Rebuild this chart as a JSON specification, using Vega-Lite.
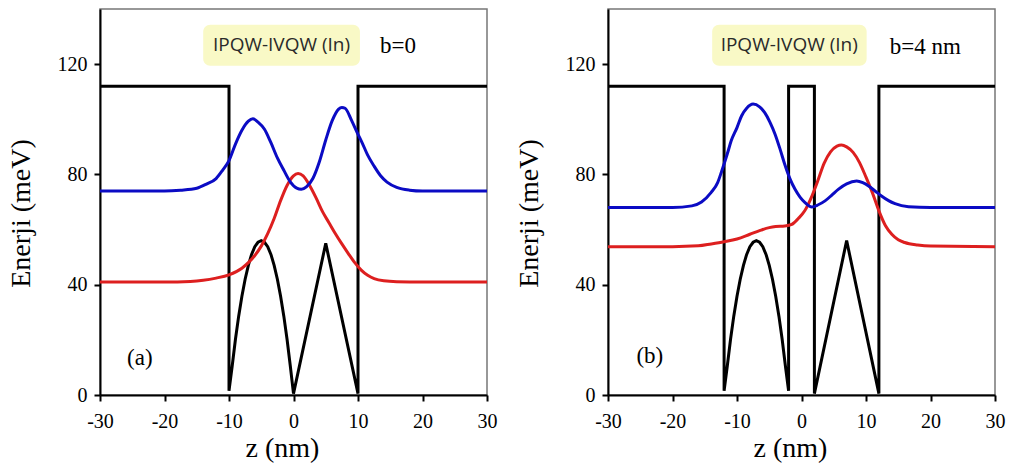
{
  "$schema": "https://vega.github.io/schema/vega-lite/v6.json",
  "padding": {"left": 6, "top": 8, "right": 5, "bottom": 5},
  "bounds": "flush",
  "spacing": 121,
  "background": "white",
  "config": {
    "view": {"stroke": "#777777", "strokeWidth": 1.5},
    "axis": {
      "grid": false,
      "labelFlush": false,
      "labelOverlap": false,
      "domainColor": "black", "domainWidth": 2,
      "tickColor": "black", "tickWidth": 2, "tickSize": 6,
      "labelFont": "Liberation Serif", "labelFontSize": 20, "labelColor": "black",
      "titleFont": "Liberation Serif", "titleFontSize": 28, "titleFontWeight": "normal", "titleColor": "black",
      "labelExpr": "datum.value + ''"
    },
    "axisX": {"labelPadding": 10, "titlePadding": 3, "titleX": 182},
    "axisY": {"labelPadding": 7, "titlePadding": 22, "titleY": 204}
  },
  "datasets": {
    "aV": [
      {"z": -30, "E": 112}, {"z": -10, "E": 112}, {"z": -10, "E": 1.5},
      {"z": -9.5, "E": 10.6}, {"z": -9, "E": 20.2}, {"z": -8.5, "E": 28.6},
      {"z": -8, "E": 35.8}, {"z": -7.5, "E": 42}, {"z": -7, "E": 47},
      {"z": -6.5, "E": 51}, {"z": -6, "E": 53.8}, {"z": -5.5, "E": 55.4},
      {"z": -5, "E": 56}, {"z": -4.5, "E": 55.4}, {"z": -4, "E": 53.8},
      {"z": -3.5, "E": 51}, {"z": -3, "E": 47}, {"z": -2.5, "E": 42},
      {"z": -2, "E": 35.8}, {"z": -1.5, "E": 28.6}, {"z": -1, "E": 20.2},
      {"z": -0.5, "E": 10.6}, {"z": 0, "E": 0.5}, {"z": 5, "E": 55},
      {"z": 10, "E": 0.5}, {"z": 10, "E": 112}, {"z": 30, "E": 112}
    ],
    "aE": [
      {"z": -30, "E": 41, "s": "E1"}, {"z": -20, "E": 41, "s": "E1"}, {"z": -16, "E": 41.2, "s": "E1"},
      {"z": -14, "E": 41.6, "s": "E1"}, {"z": -12, "E": 42.4, "s": "E1"}, {"z": -10, "E": 43.6, "s": "E1"},
      {"z": -8, "E": 46, "s": "E1"}, {"z": -7, "E": 48, "s": "E1"}, {"z": -6, "E": 50.6, "s": "E1"},
      {"z": -5, "E": 54, "s": "E1"}, {"z": -4, "E": 58.5, "s": "E1"}, {"z": -3, "E": 64, "s": "E1"},
      {"z": -2, "E": 70.5, "s": "E1"}, {"z": -1, "E": 76, "s": "E1"}, {"z": 0, "E": 79.5, "s": "E1"},
      {"z": 0.7, "E": 80.3, "s": "E1"}, {"z": 1.5, "E": 79.5, "s": "E1"}, {"z": 2.5, "E": 76, "s": "E1"},
      {"z": 3.5, "E": 71.5, "s": "E1"}, {"z": 4.5, "E": 66.5, "s": "E1"}, {"z": 5.5, "E": 62.5, "s": "E1"},
      {"z": 6.5, "E": 58.5, "s": "E1"}, {"z": 7.5, "E": 54.8, "s": "E1"}, {"z": 8.5, "E": 51.3, "s": "E1"},
      {"z": 9.5, "E": 48, "s": "E1"}, {"z": 10.5, "E": 45.3, "s": "E1"}, {"z": 11.5, "E": 43.4, "s": "E1"},
      {"z": 12.5, "E": 42.2, "s": "E1"}, {"z": 14, "E": 41.4, "s": "E1"}, {"z": 16, "E": 41.1, "s": "E1"},
      {"z": 20, "E": 41, "s": "E1"}, {"z": 30, "E": 41, "s": "E1"},

      {"z": -30, "E": 74, "s": "E2"}, {"z": -20, "E": 74, "s": "E2"}, {"z": -17.5, "E": 74.3, "s": "E2"},
      {"z": -15, "E": 75, "s": "E2"}, {"z": -13.5, "E": 76.5, "s": "E2"}, {"z": -12, "E": 78.5, "s": "E2"},
      {"z": -11, "E": 81.5, "s": "E2"}, {"z": -10, "E": 85, "s": "E2"}, {"z": -9, "E": 91, "s": "E2"},
      {"z": -8, "E": 96, "s": "E2"}, {"z": -7, "E": 99.3, "s": "E2"}, {"z": -6.3, "E": 100.2, "s": "E2"},
      {"z": -5.5, "E": 99, "s": "E2"}, {"z": -4.5, "E": 96.4, "s": "E2"}, {"z": -3.5, "E": 91.5, "s": "E2"},
      {"z": -2.5, "E": 86, "s": "E2"}, {"z": -1.5, "E": 81.5, "s": "E2"}, {"z": -0.5, "E": 77.3, "s": "E2"},
      {"z": 0.5, "E": 75, "s": "E2"}, {"z": 1.2, "E": 74.6, "s": "E2"}, {"z": 2, "E": 75.5, "s": "E2"},
      {"z": 3, "E": 78.5, "s": "E2"}, {"z": 4, "E": 84.5, "s": "E2"}, {"z": 5, "E": 92.5, "s": "E2"},
      {"z": 6, "E": 99.5, "s": "E2"}, {"z": 7, "E": 103.7, "s": "E2"}, {"z": 7.5, "E": 104.3, "s": "E2"},
      {"z": 8, "E": 104, "s": "E2"}, {"z": 9, "E": 99.6, "s": "E2"}, {"z": 10, "E": 94.5, "s": "E2"},
      {"z": 10.5, "E": 92.2, "s": "E2"}, {"z": 11.5, "E": 87, "s": "E2"}, {"z": 12.5, "E": 83, "s": "E2"},
      {"z": 13.5, "E": 79.5, "s": "E2"}, {"z": 14.5, "E": 77.2, "s": "E2"}, {"z": 16, "E": 75.3, "s": "E2"},
      {"z": 18, "E": 74.3, "s": "E2"}, {"z": 20, "E": 74, "s": "E2"}, {"z": 30, "E": 74, "s": "E2"}
    ],
    "bV": [
      {"z": -30, "E": 112}, {"z": -12, "E": 112}, {"z": -12, "E": 1.5},
      {"z": -11.5, "E": 10.6}, {"z": -11, "E": 20.2}, {"z": -10.5, "E": 28.6},
      {"z": -10, "E": 35.8}, {"z": -9.5, "E": 42}, {"z": -9, "E": 47},
      {"z": -8.5, "E": 51}, {"z": -8, "E": 53.8}, {"z": -7.5, "E": 55.4},
      {"z": -7, "E": 56}, {"z": -6.5, "E": 55.4}, {"z": -6, "E": 53.8},
      {"z": -5.5, "E": 51}, {"z": -5, "E": 47}, {"z": -4.5, "E": 42},
      {"z": -4, "E": 35.8}, {"z": -3.5, "E": 28.6}, {"z": -3, "E": 20.2},
      {"z": -2.5, "E": 10.6}, {"z": -2, "E": 1.5}, {"z": -2, "E": 112},
      {"z": 2, "E": 112}, {"z": 2, "E": 0.5}, {"z": 7, "E": 56},
      {"z": 12, "E": 0.5}, {"z": 12, "E": 112}, {"z": 30, "E": 112}
    ],
    "bE": [
      {"z": -30, "E": 53.8, "s": "E1"}, {"z": -20, "E": 53.8, "s": "E1"}, {"z": -16, "E": 54.1, "s": "E1"},
      {"z": -14, "E": 54.8, "s": "E1"}, {"z": -12, "E": 55.6, "s": "E1"}, {"z": -10, "E": 56.6, "s": "E1"},
      {"z": -8, "E": 58.3, "s": "E1"}, {"z": -6.5, "E": 59.6, "s": "E1"}, {"z": -5, "E": 60.7, "s": "E1"},
      {"z": -4, "E": 61.1, "s": "E1"}, {"z": -2.6, "E": 61.3, "s": "E1"}, {"z": -1.5, "E": 61.9, "s": "E1"},
      {"z": -0.5, "E": 64, "s": "E1"}, {"z": 0.5, "E": 66.8, "s": "E1"}, {"z": 1.5, "E": 71.5, "s": "E1"},
      {"z": 2.5, "E": 77.5, "s": "E1"}, {"z": 3.5, "E": 84, "s": "E1"}, {"z": 4.5, "E": 88.2, "s": "E1"},
      {"z": 5.5, "E": 90.3, "s": "E1"}, {"z": 6.2, "E": 90.7, "s": "E1"}, {"z": 7, "E": 90, "s": "E1"},
      {"z": 8, "E": 88, "s": "E1"}, {"z": 9, "E": 84.3, "s": "E1"}, {"z": 10, "E": 79, "s": "E1"},
      {"z": 11, "E": 73.3, "s": "E1"}, {"z": 12, "E": 66.8, "s": "E1"}, {"z": 13, "E": 61.5, "s": "E1"},
      {"z": 14, "E": 58.3, "s": "E1"}, {"z": 15, "E": 56.3, "s": "E1"}, {"z": 16, "E": 55.3, "s": "E1"},
      {"z": 18, "E": 54.4, "s": "E1"}, {"z": 20, "E": 54, "s": "E1"}, {"z": 30, "E": 53.8, "s": "E1"},

      {"z": -30, "E": 68, "s": "E2"}, {"z": -20, "E": 68, "s": "E2"}, {"z": -17, "E": 68.6, "s": "E2"},
      {"z": -15.5, "E": 70, "s": "E2"}, {"z": -14, "E": 73.5, "s": "E2"}, {"z": -13, "E": 77, "s": "E2"},
      {"z": -12.4, "E": 81, "s": "E2"}, {"z": -11.5, "E": 87.5, "s": "E2"}, {"z": -10.9, "E": 92.2, "s": "E2"},
      {"z": -10, "E": 97, "s": "E2"}, {"z": -9.3, "E": 101.2, "s": "E2"}, {"z": -8.5, "E": 104, "s": "E2"},
      {"z": -7.5, "E": 105.5, "s": "E2"}, {"z": -6.5, "E": 104.5, "s": "E2"}, {"z": -5.7, "E": 102.4, "s": "E2"},
      {"z": -4.9, "E": 99, "s": "E2"}, {"z": -4.1, "E": 94.6, "s": "E2"}, {"z": -3.3, "E": 89, "s": "E2"},
      {"z": -2.6, "E": 83.7, "s": "E2"}, {"z": -1.8, "E": 78.5, "s": "E2"}, {"z": -1, "E": 74.6, "s": "E2"},
      {"z": -0.2, "E": 71.7, "s": "E2"}, {"z": 0.55, "E": 69.8, "s": "E2"}, {"z": 1.6, "E": 68.2, "s": "E2"},
      {"z": 2.6, "E": 69, "s": "E2"}, {"z": 3.65, "E": 70.4, "s": "E2"}, {"z": 4.7, "E": 72.5, "s": "E2"},
      {"z": 5.7, "E": 74.6, "s": "E2"}, {"z": 7, "E": 76.6, "s": "E2"}, {"z": 8.55, "E": 77.6, "s": "E2"},
      {"z": 9.5, "E": 77, "s": "E2"}, {"z": 10.4, "E": 75.8, "s": "E2"}, {"z": 11.4, "E": 74, "s": "E2"},
      {"z": 12.4, "E": 72.2, "s": "E2"}, {"z": 13.5, "E": 70.5, "s": "E2"}, {"z": 14.5, "E": 69.4, "s": "E2"},
      {"z": 16.6, "E": 68.3, "s": "E2"}, {"z": 20, "E": 68, "s": "E2"}, {"z": 30, "E": 68, "s": "E2"}
    ],
    "one": [{}]
  },
  "hconcat": [
    {
      "width": 387, "height": 386,
      "layer": [
        {
          "data": {"name": "one"},
          "mark": {"type": "rect", "fill": "#f9f9c6", "cornerRadius": 7},
          "encoding": {
            "x": {"datum": -14, "type": "quantitative"}, "x2": {"datum": 10.3},
            "y": {"datum": 134.3, "type": "quantitative"}, "y2": {"datum": 119.4}
          }
        },
        {
          "data": {"name": "aV"},
          "mark": {"type": "line", "strokeWidth": 3, "clip": true, "color": "black"},
          "encoding": {
            "x": {"field": "z", "type": "quantitative", "scale": {"domain": [-30, 30], "nice": false},
                  "axis": {"values": [-30, -20, -10, 0, 10, 20, 30], "title": "z (nm)"}},
            "y": {"field": "E", "type": "quantitative", "scale": {"domain": [0, 140], "nice": false},
                  "axis": {"values": [0, 40, 80, 120], "title": "Enerji (meV)"}},
            "order": {"value": null}
          }
        },
        {
          "data": {"name": "aE"},
          "mark": {"type": "line", "strokeWidth": 3, "clip": true, "interpolate": "monotone"},
          "encoding": {
            "x": {"field": "z", "type": "quantitative"},
            "y": {"field": "E", "type": "quantitative"},
            "color": {"field": "s", "type": "nominal", "scale": {"domain": ["E1", "E2"], "range": ["#dd1f1f", "#0b0bc4"]}, "legend": null}
          }
        },
        {
          "data": {"name": "one"},
          "mark": {"type": "text", "text": "IPQW-IVQW (In)", "font": "Open Sans", "fontSize": 19, "color": "#2a2a2a", "align": "center", "baseline": "middle"},
          "encoding": {"x": {"datum": -1.86, "type": "quantitative"}, "y": {"datum": 126.8, "type": "quantitative"}}
        },
        {
          "data": {"name": "one"},
          "mark": {"type": "text", "text": "b=0", "font": "Liberation Serif", "fontSize": 23, "color": "black", "align": "left", "baseline": "alphabetic"},
          "encoding": {"x": {"datum": 13.4, "type": "quantitative"}, "y": {"datum": 124.2, "type": "quantitative"}}
        },
        {
          "data": {"name": "one"},
          "mark": {"type": "text", "text": "(a)", "font": "Liberation Serif", "fontSize": 23, "color": "black", "align": "left", "baseline": "middle"},
          "encoding": {"x": {"datum": -25.8, "type": "quantitative"}, "y": {"datum": 13.5, "type": "quantitative"}}
        }
      ]
    },
    {
      "width": 387, "height": 386,
      "layer": [
        {
          "data": {"name": "one"},
          "mark": {"type": "rect", "fill": "#f9f9c6", "cornerRadius": 7},
          "encoding": {
            "x": {"datum": -13.85, "type": "quantitative"}, "x2": {"datum": 10.1},
            "y": {"datum": 134.3, "type": "quantitative"}, "y2": {"datum": 119.4}
          }
        },
        {
          "data": {"name": "bV"},
          "mark": {"type": "line", "strokeWidth": 3, "clip": true, "color": "black"},
          "encoding": {
            "x": {"field": "z", "type": "quantitative", "scale": {"domain": [-30, 30], "nice": false},
                  "axis": {"values": [-30, -20, -10, 0, 10, 20, 30], "title": "z (nm)"}},
            "y": {"field": "E", "type": "quantitative", "scale": {"domain": [0, 140], "nice": false},
                  "axis": {"values": [0, 40, 80, 120], "title": "Enerji (meV)"}},
            "order": {"value": null}
          }
        },
        {
          "data": {"name": "bE"},
          "mark": {"type": "line", "strokeWidth": 3, "clip": true, "interpolate": "monotone"},
          "encoding": {
            "x": {"field": "z", "type": "quantitative"},
            "y": {"field": "E", "type": "quantitative"},
            "color": {"field": "s", "type": "nominal", "scale": {"domain": ["E1", "E2"], "range": ["#dd1f1f", "#0b0bc4"]}, "legend": null}
          }
        },
        {
          "data": {"name": "one"},
          "mark": {"type": "text", "text": "IPQW-IVQW (In)", "font": "Open Sans", "fontSize": 19, "color": "#2a2a2a", "align": "center", "baseline": "middle"},
          "encoding": {"x": {"datum": -1.9, "type": "quantitative"}, "y": {"datum": 126.8, "type": "quantitative"}}
        },
        {
          "data": {"name": "one"},
          "mark": {"type": "text", "text": "b=4 nm", "font": "Liberation Serif", "fontSize": 23, "color": "black", "align": "left", "baseline": "alphabetic"},
          "encoding": {"x": {"datum": 13.7, "type": "quantitative"}, "y": {"datum": 123.6, "type": "quantitative"}}
        },
        {
          "data": {"name": "one"},
          "mark": {"type": "text", "text": "(b)", "font": "Liberation Serif", "fontSize": 23, "color": "black", "align": "left", "baseline": "middle"},
          "encoding": {"x": {"datum": -25.6, "type": "quantitative"}, "y": {"datum": 14.2, "type": "quantitative"}}
        }
      ]
    }
  ]
}
